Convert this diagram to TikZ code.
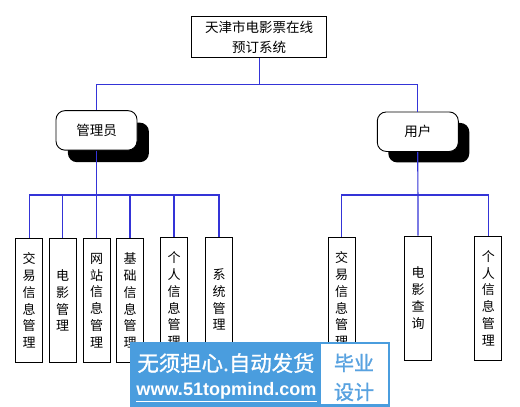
\documentclass[tikz,border=0pt]{standalone}
\usepackage{fontspec}
\usepackage{graphicx}
\setmainfont{Noto Sans CJK SC}
\newfontfamily\wmfont[FakeBold=1.2]{Noto Sans CJK SC}
\newfontfamily\wmlatin{Liberation Sans Bold}
\definecolor{connblue}{RGB}{52,52,215}
\definecolor{wmblue}{RGB}{74,157,222}
\definecolor{wmtext}{RGB}{88,162,224}
\tikzset{
  conn/.style={draw=connblue, line width=1.2pt},
  topbox/.style={draw=black, line width=0.9pt, fill=white, minimum width=135pt, minimum height=40.6pt, inner sep=0pt, align=center, font=\fontsize{13.5}{20}\selectfont},
  rolebox/.style={draw=black, line width=0.9pt, fill=white, rounded corners=9pt, minimum width=81pt, minimum height=39.5pt, inner sep=0pt, font=\fontsize{13.5}{16}\selectfont},
  roleshadow/.style={fill=black, rounded corners=9pt, minimum width=81pt, minimum height=39.5pt, inner sep=0pt},
  leafbox/.style={draw=black, line width=0.9pt, fill=white, minimum width=27pt, minimum height=124.5pt, inner sep=0pt, align=center, font=\fontsize{13}{16.8}\selectfont},
}
\begin{document}
\begin{tikzpicture}[x=1pt,y=-1pt]
\useasboundingbox (0,0) rectangle (520,407);
\fill[white] (0,0) rectangle (520,407);

% top node
\node[topbox] (top) at (259.2,37) {天津市电影票在线\\预订系统};

% role boxes with shadows
\node[roleshadow] (adminsh) at (108.4,142.4) {};
\node[roleshadow] (usersh) at (428.8,142.7) {};
\node[rolebox] (admin) at (96.5,130.4) {管理员};
\node[rolebox] (user) at (417.8,131.7) {用户};

% admin leaves
\node[leafbox] (a1) at (29.2,300.5) {交\\易\\信\\息\\管\\理};
\node[leafbox] (a2) at (62.7,300.5) {电\\影\\管\\理};
\node[leafbox] (a3) at (96.5,300.5) {网\\站\\信\\息\\管\\理};
\node[leafbox] (a4) at (130,300.5) {基\\础\\信\\息\\管\\理};
\node[leafbox] (a5) at (174,299.5) {个\\人\\信\\息\\管\\理};
\node[leafbox] (a6) at (219,299.5) {系\\统\\管\\理};

% user leaves
\node[leafbox] (u1) at (341.7,299.5) {交\\易\\信\\息\\管\\理};
\node[leafbox] (u2) at (418,298.2) {电\\影\\查\\询};
\node[leafbox] (u3) at (488.3,298.2) {个\\人\\信\\息\\管\\理};

% connectors
\coordinate (busT) at (259.2,84.3);
\coordinate (busL) at (96.5,195);
\coordinate (busR) at (417.8,195);
\draw[conn] (top.south) -- (busT);
\draw[conn] (admin.north) |- (busT) -| (user.north);
\draw[conn] (admin.south) -- (a3.north);
\draw[conn] (a1.north) |- (busL) -| (a6.north);
\draw[conn] (a2.north) -- (a2.north |- busL);
\draw[conn] (a4.north) -- (a4.north |- busL);
\draw[conn] (a5.north) -- (a5.north |- busL);
\draw[conn] (user.south) -- (u2.north);
\draw[conn] (u1.north) |- (busR) -| (u3.north);

% watermark
\fill[wmblue] (130,341.5) rectangle (390,407);
\fill[white] (321,343.5) rectangle (387.5,404);
\node[text=white, inner sep=0pt] (wm1) at (226,363) {\resizebox{177pt}{!}{\wmfont 无须担心.自动发货}};
\node[text=white, inner sep=0pt] (wm2) at (226.5,391) {\resizebox{180pt}{!}{\wmlatin www.51topmind.com}};
\draw[white, line width=0.8pt] (wm2.south west) ++(0,1.5) -- ([yshift=-1.5pt]wm2.south east);
\node[text=wmtext, inner sep=0pt, align=center, font=\wmfont\fontsize{20}{29}\selectfont] (wm3) at (354,377.5) {毕业\\设计};
\end{tikzpicture}
\end{document}
